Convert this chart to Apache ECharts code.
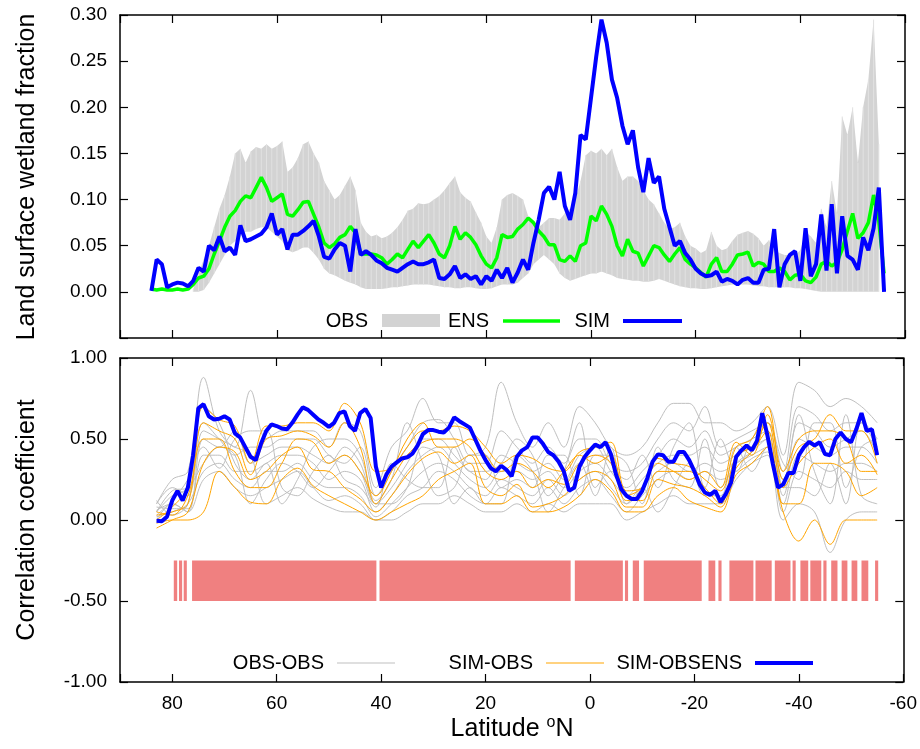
<!DOCTYPE html>
<html><head><meta charset="utf-8">
<script src="https://cdn.jsdelivr.net/npm/echarts@6/dist/echarts.min.js"></script>
<style>html,body{margin:0;padding:0;background:#fff}#c{width:920px;height:749px}</style>
</head><body><div id="c"></div>
<script>
// ---------- latitude grids ----------
const latTop = [];  for (let l = 84; l >= -56; l--) latTop.push(l);      // top panel, 1 deg
const latCorr = []; for (let l = 83; l >= -55; l--) latCorr.push(l);     // bottom thick line, 1 deg
const latThin = []; for (let l = 83; l >= -55; l -= 3) latThin.push(l);  // bottom thin lines, 3 deg

// ---------- top panel: wetland fraction ----------
const SIM_TOP = [
0.001,0.035,0.030,0.005,0.008,0.010,0.009,0.006,0.012,0.026,
0.022,0.050,0.045,0.060,0.044,0.048,0.040,0.072,0.055,0.057,
0.060,0.063,0.070,0.085,0.062,0.068,0.046,0.062,0.062,0.066,
0.071,0.077,0.060,0.038,0.036,0.046,0.053,0.050,0.022,0.068,
0.040,0.044,0.040,0.034,0.031,0.026,0.024,0.022,0.026,0.030,
0.033,0.030,0.030,0.032,0.035,0.015,0.014,0.019,0.028,0.015,
0.019,0.014,0.017,0.008,0.017,0.012,0.024,0.015,0.026,0.010,
0.021,0.035,0.024,0.053,0.078,0.107,0.114,0.100,0.130,0.093,
0.078,0.107,0.170,0.165,0.210,0.255,0.295,0.270,0.230,0.210,
0.180,0.160,0.175,0.135,0.108,0.145,0.118,0.125,0.090,0.070,
0.050,0.055,0.042,0.035,0.025,0.020,0.017,0.018,0.022,0.011,
0.014,0.012,0.008,0.013,0.015,0.010,0.010,0.024,0.025,0.068,
0.005,0.030,0.040,0.044,0.012,0.069,0.017,0.030,0.084,0.023,
0.095,0.020,0.082,0.039,0.035,0.024,0.059,0.045,0.069,0.113,
0.000];
const ENS_TOP = [
0.003,0.002,0.003,0.002,0.002,0.003,0.002,0.003,0.008,0.015,
0.017,0.025,0.041,0.055,0.070,0.082,0.088,0.098,0.104,0.102,
0.113,0.124,0.113,0.098,0.102,0.106,0.084,0.082,0.089,0.097,
0.098,0.084,0.070,0.053,0.048,0.052,0.059,0.062,0.071,0.064,
0.041,0.041,0.041,0.040,0.037,0.030,0.035,0.041,0.037,0.046,
0.055,0.048,0.055,0.062,0.053,0.041,0.037,0.050,0.071,0.057,
0.064,0.059,0.051,0.039,0.030,0.026,0.037,0.062,0.059,0.060,
0.068,0.073,0.080,0.075,0.066,0.060,0.051,0.051,0.035,0.033,
0.039,0.033,0.050,0.053,0.082,0.077,0.093,0.084,0.071,0.050,
0.039,0.057,0.044,0.042,0.028,0.039,0.050,0.048,0.040,0.033,
0.041,0.048,0.035,0.030,0.026,0.021,0.016,0.030,0.037,0.022,
0.022,0.030,0.040,0.041,0.043,0.028,0.032,0.030,0.022,0.022,
0.026,0.022,0.013,0.018,0.019,0.012,0.010,0.016,0.030,0.033,
0.028,0.032,0.046,0.066,0.085,0.058,0.064,0.075,0.105,0.076,
0.020];
const OBS_MAX = [
null,null,null,null,null,null,null,null,0.003,0.020,
0.035,0.050,0.070,0.090,0.105,0.125,0.150,0.155,0.140,0.152,
0.157,0.155,0.160,0.155,0.158,0.163,0.130,0.135,0.145,0.160,
0.163,0.150,0.140,0.120,0.110,0.100,0.105,0.115,0.125,0.110,
0.075,0.065,0.060,0.062,0.058,0.060,0.064,0.070,0.078,0.088,
0.090,0.096,0.095,0.096,0.100,0.104,0.110,0.118,0.125,0.108,
0.102,0.098,0.086,0.075,0.060,0.053,0.070,0.100,0.105,0.107,
0.104,0.100,0.082,0.075,0.070,0.075,0.080,0.080,0.078,0.085,
0.090,0.100,0.120,0.148,0.153,0.150,0.155,0.148,0.155,0.135,
0.120,0.125,0.125,0.120,0.110,0.100,0.095,0.085,0.075,0.068,
0.070,0.075,0.060,0.050,0.047,0.042,0.045,0.065,0.050,0.045,
0.047,0.055,0.062,0.064,0.066,0.063,0.058,0.050,0.056,0.045,
0.042,0.040,0.040,0.040,0.045,0.065,0.060,0.053,0.090,0.070,
0.120,0.085,0.190,0.170,0.200,0.140,0.200,0.230,0.295,0.160,
null];
const OBS_MIN = [
null,null,null,null,null,null,null,null,0.000,0.000,
0.002,0.010,0.020,0.030,0.040,0.050,0.055,0.060,0.065,0.065,
0.068,0.070,0.070,0.065,0.060,0.055,0.045,0.043,0.045,0.048,
0.048,0.042,0.035,0.025,0.020,0.018,0.015,0.012,0.010,0.008,
0.005,0.003,0.003,0.003,0.003,0.004,0.005,0.005,0.006,0.007,
0.008,0.008,0.008,0.008,0.007,0.006,0.005,0.005,0.004,0.004,
0.005,0.005,0.004,0.003,0.003,0.004,0.006,0.008,0.008,0.008,
0.010,0.015,0.020,0.030,0.035,0.040,0.035,0.030,0.020,0.015,
0.012,0.014,0.016,0.018,0.020,0.020,0.022,0.020,0.018,0.015,
0.014,0.013,0.012,0.012,0.011,0.011,0.012,0.014,0.012,0.010,
0.008,0.006,0.005,0.004,0.004,0.003,0.003,0.004,0.005,0.006,
0.007,0.008,0.008,0.008,0.008,0.007,0.006,0.006,0.005,0.005,
0.005,0.005,0.005,0.004,0.004,0.003,0.002,0.001,0.000,0.000,
0.000,0.000,0.000,0.000,0.000,0.000,0.000,0.000,0.000,0.000,
null];

// ---------- bottom panel: correlation ----------
const SIM_OBSENS = [
-0.005,-0.008,0.020,0.120,0.180,0.120,0.200,0.400,0.690,0.715,
0.640,0.620,0.625,0.640,0.620,0.535,0.510,0.450,0.390,0.370,
0.470,0.550,0.590,0.580,0.565,0.560,0.600,0.650,0.695,0.680,
0.650,0.620,0.600,0.575,0.600,0.660,0.670,0.580,0.550,0.660,
0.685,0.630,0.330,0.200,0.280,0.330,0.356,0.380,0.387,0.410,
0.460,0.530,0.555,0.555,0.545,0.540,0.570,0.634,0.610,0.590,
0.570,0.500,0.430,0.370,0.320,0.300,0.335,0.310,0.270,0.390,
0.430,0.450,0.510,0.510,0.470,0.420,0.400,0.360,0.300,0.180,
0.200,0.330,0.390,0.430,0.465,0.450,0.480,0.407,0.280,0.190,
0.150,0.130,0.130,0.180,0.260,0.360,0.405,0.400,0.360,0.360,
0.420,0.420,0.370,0.300,0.220,0.170,0.155,0.180,0.110,0.160,
0.230,0.390,0.430,0.460,0.430,0.490,0.660,0.520,0.350,0.200,
0.220,0.290,0.290,0.400,0.450,0.483,0.460,0.480,0.407,0.400,
0.500,0.540,0.500,0.480,0.560,0.660,0.550,0.560,0.400];

// SIM-OBS (orange), 3-degree samples 83 .. -55
const SIM_OBS = [
[0.00,0.08,0.20,0.70,0.62,0.58,0.35,0.58,0.58,0.60,0.60,0.55,0.72,0.60,0.30,0.32,0.45,0.55,0.55,0.58,0.55,0.45,0.35,0.40,0.38,0.32,0.30,0.42,0.45,0.48,0.18,0.20,0.38,0.35,0.33,0.25,0.18,0.45,0.50,0.70,0.25,0.45,0.50,0.65,0.55,0.55,0.35],
[0.03,0.05,0.10,0.60,0.55,0.50,0.28,0.50,0.52,0.55,0.52,0.45,0.60,0.45,0.10,0.25,0.40,0.48,0.50,0.50,0.45,0.30,0.25,0.30,0.20,0.25,0.22,0.35,0.40,0.35,0.12,0.12,0.30,0.30,0.30,0.20,0.10,0.40,0.45,0.60,0.20,0.35,0.45,0.50,0.35,0.40,0.28],
[-0.05,0.00,0.05,0.35,0.45,0.42,0.25,0.30,0.40,0.45,0.31,0.30,0.20,0.13,0.05,0.15,0.28,0.38,0.42,0.35,0.40,0.20,0.15,0.22,0.08,0.10,0.15,0.25,0.30,0.25,0.08,0.08,0.25,0.22,0.20,0.15,0.08,0.32,0.42,0.55,0.10,0.10,0.35,0.35,0.30,0.15,0.20],
[-0.02,0.00,0.00,0.05,0.30,0.20,0.11,0.10,0.25,0.32,0.21,0.15,0.10,0.05,0.00,0.05,0.10,0.15,0.25,0.30,0.35,0.10,0.10,0.15,0.05,0.05,0.08,0.15,0.25,0.18,0.05,0.05,0.15,0.20,0.12,0.08,0.05,0.28,0.35,0.45,0.05,-0.13,0.00,-0.15,0.00,0.00,0.00],
[0.05,0.03,0.15,0.50,0.50,0.30,0.20,0.20,0.35,0.50,0.48,0.35,0.40,0.30,0.15,0.30,0.50,0.60,0.45,0.45,0.50,0.40,0.30,0.35,0.30,0.20,0.30,0.40,0.35,0.40,0.15,0.20,0.35,0.30,0.25,0.30,0.20,0.48,0.40,0.65,0.30,0.50,0.55,0.55,0.50,0.30,0.30]
];
// OBS-OBS (grey), 3-degree samples 83 .. -55
const OBS_OBS = [
[0.10,0.25,0.30,0.88,0.55,0.45,0.80,0.50,0.55,0.55,0.55,0.45,0.60,0.55,0.20,0.45,0.55,0.75,0.60,0.60,0.40,0.45,0.85,0.60,0.45,0.60,0.45,0.70,0.60,0.45,0.40,0.45,0.60,0.72,0.72,0.60,0.60,0.55,0.60,0.70,0.40,0.85,0.80,0.70,0.75,0.70,0.60],
[0.05,0.15,0.20,0.60,0.50,0.40,0.45,0.45,0.50,0.50,0.50,0.40,0.35,0.45,0.15,0.30,0.45,0.60,0.62,0.50,0.35,0.35,0.55,0.45,0.35,0.45,0.35,0.50,0.50,0.35,0.30,0.35,0.50,0.60,0.55,0.70,0.45,0.50,0.55,0.60,0.30,0.70,0.65,0.55,0.60,0.60,0.50],
[0.00,0.10,0.05,0.50,0.45,0.55,0.35,0.40,0.45,0.45,0.40,0.35,0.45,0.35,0.10,0.20,0.35,0.50,0.50,0.40,0.30,0.25,0.40,0.35,0.30,0.35,0.25,0.40,0.45,0.30,0.20,0.30,0.40,0.50,0.45,0.55,0.40,0.45,0.50,0.55,0.20,0.60,0.55,0.45,0.50,0.55,0.40],
[0.08,0.07,0.07,0.40,0.40,0.30,0.30,0.35,0.40,0.40,0.35,0.25,0.30,0.25,0.05,0.15,0.30,0.40,0.45,0.35,0.25,0.20,0.30,0.30,0.25,0.30,0.20,0.30,0.35,0.25,0.15,0.25,0.35,0.40,0.40,0.45,0.35,0.40,0.45,0.50,0.15,0.50,0.45,0.40,0.45,0.45,0.35],
[0.02,0.05,0.10,0.30,0.35,0.25,0.20,0.30,0.30,0.35,0.25,0.20,0.20,0.15,0.02,0.10,0.20,0.30,0.35,0.30,0.20,0.15,0.25,0.20,0.15,0.25,0.15,0.25,0.30,0.20,0.10,0.20,0.30,0.35,0.30,0.35,0.30,0.35,0.40,0.45,0.10,0.40,0.35,0.30,0.35,0.35,0.30],
[0.06,0.10,0.05,0.25,0.30,0.20,0.15,0.20,0.25,0.30,0.20,0.12,0.15,0.10,0.00,0.05,0.15,0.20,0.30,0.25,0.15,0.10,0.20,0.15,0.10,0.20,0.10,0.20,0.25,0.15,0.05,0.15,0.25,0.30,0.25,0.30,0.25,0.30,0.38,0.42,0.05,0.30,0.25,0.20,0.30,0.25,0.25],
[0.10,0.20,0.15,0.55,0.50,0.45,0.40,0.10,0.15,0.20,0.13,0.08,0.05,0.05,0.00,0.00,0.05,0.10,0.10,0.15,0.10,0.05,0.05,0.10,0.05,0.10,0.05,0.10,0.10,0.10,0.00,0.05,0.10,0.15,0.10,0.10,0.10,0.25,0.35,0.40,0.00,0.10,0.05,-0.20,0.00,0.05,0.05],
[0.03,0.12,0.25,0.45,0.32,0.50,0.55,0.55,0.20,0.15,0.30,0.40,0.25,0.20,0.08,0.35,0.25,0.20,0.20,0.45,0.30,0.30,0.35,0.50,0.40,0.15,0.30,0.60,0.20,0.30,0.25,0.40,0.20,0.45,0.60,0.20,0.50,0.30,0.50,0.60,0.35,0.25,0.60,0.60,0.20,0.45,0.50],
[0.12,0.03,0.10,0.70,0.60,0.35,0.25,0.35,0.10,0.25,0.45,0.50,0.50,0.40,0.12,0.25,0.60,0.35,0.15,0.20,0.40,0.40,0.20,0.25,0.20,0.40,0.40,0.15,0.40,0.40,0.35,0.10,0.45,0.25,0.20,0.50,0.20,0.35,0.42,0.50,0.25,0.65,0.30,0.10,0.65,0.15,0.10],
[0.05,0.18,0.20,0.35,0.45,0.40,0.10,0.25,0.35,0.30,0.20,0.30,0.40,0.30,0.10,0.10,0.20,0.45,0.40,0.10,0.20,0.10,0.10,0.40,0.30,0.05,0.20,0.35,0.15,0.45,0.10,0.20,0.05,0.20,0.35,0.15,0.15,0.45,0.30,0.45,0.20,0.20,0.15,0.35,0.10,0.60,0.45]
];
// latitude bands [from, to] where SIM-OBSENS is significant
const SIG_BANDS = [[79.7,79.05],[78.7,78.1],[77.8,77.2],[76.2,40.9],[40.3,3.7],[2.9,-6.3],[-6.7,-7.3],[-8.2,-9.4],[-10.3,-21.4],[-22.7,-24.0],[-24.6,-25.2],[-26.7,-31.3],[-31.7,-34.8],[-35.4,-38.4],[-38.8,-39.4],[-40.3,-41.8],[-42.2,-44.3],[-44.7,-45.3],[-46.2,-47.4],[-48.2,-49.3],[-50.1,-51.2],[-52.0,-53.3],[-54.6,-55.2]];
const SIG_RANGE = [-0.25, -0.5];

const X_TICKS = [80,60,40,20,0,-20,-40,-60];

// ---------- chart ----------
const FONT = "'Liberation Sans', Arial, Helvetica, sans-serif";
const pairs = (lats, vals) => lats.map((l, i) => [l, vals[i]]);
const bandData = [];
latTop.forEach((l, i) => { if (OBS_MAX[i] != null) bandData.push([l, OBS_MIN[i], OBS_MAX[i]]); });

function xAx(gi, pos, labels) {
  return {
    type: 'value', gridIndex: gi, position: pos, min: -60, max: 90, interval: 20, inverse: true,
    axisLine: { show: true, onZero: false, lineStyle: { color: '#000', width: 1.5 } },
    axisTick: { show: true, inside: true, length: 8, lineStyle: { color: '#000', width: 1.2 } },
    axisLabel: { show: labels, color: '#000', fontSize: 19, fontFamily: FONT, margin: 12,
      formatter: v => (X_TICKS.indexOf(v) >= 0 ? String(v) : '') },
    splitLine: { show: false }
  };
}
function yAx(gi, pos, min, max, interval, labels, fmt) {
  return {
    type: 'value', gridIndex: gi, position: pos, min, max, interval,
    axisLine: { show: true, onZero: false, lineStyle: { color: '#000', width: 1.5 } },
    axisTick: { show: true, inside: true, length: 8, lineStyle: { color: '#000', width: 1.2 } },
    axisLabel: { show: labels, color: '#000', fontSize: 19, fontFamily: FONT, margin: 13, formatter: fmt },
    splitLine: { show: false }
  };
}
const series = [];
// OBS min-max envelope as one polygon through the axis scales
series.push({ type: 'custom', xAxisIndex: 0, yAxisIndex: 0, data: bandData,
  encode: { x: 0, y: [1, 2] }, silent: true, z: 1,
  renderItem: (params, api) => {
    if (params.dataIndex !== 0) return { type: 'group', children: [] };
    const up = bandData.map(d => api.coord([d[0], d[2]]));
    const lo = bandData.map(d => api.coord([d[0], d[1]])).reverse();
    const stripes = bandData.map(d => {
      const a = api.coord([d[0], d[2]]), b = api.coord([d[0], d[1]]);
      return { type: 'line', shape: { x1: a[0], y1: a[1], x2: b[0], y2: b[1] }, style: { stroke: '#e2e2e2', lineWidth: 1 } };
    });
    return { type: 'group', children: [
      { type: 'polygon', shape: { points: up.concat(lo) }, style: { fill: '#d3d3d3' } }
    ].concat(stripes) };
  } });
series.push({ type: 'line', xAxisIndex: 0, yAxisIndex: 0, data: pairs(latTop, ENS_TOP),
  symbol: 'none', lineStyle: { color: '#00ff00', width: 3.5 }, z: 3 });
series.push({ type: 'line', xAxisIndex: 0, yAxisIndex: 0, data: pairs(latTop, SIM_TOP),
  symbol: 'none', lineStyle: { color: '#0000ff', width: 4 }, z: 4 });

series.push({ type: 'custom', xAxisIndex: 2, yAxisIndex: 2,
  data: SIG_BANDS.map(b => [b[0], b[1], SIG_RANGE[0], SIG_RANGE[1]]),
  encode: { x: [0, 1], y: [2, 3] },
  renderItem: (params, api) => {
    const p1 = api.coord([api.value(0), api.value(2)]);
    const p2 = api.coord([api.value(1), api.value(3)]);
    return { type: 'rect', shape: { x: Math.min(p1[0], p2[0]), y: Math.min(p1[1], p2[1]),
      width: Math.abs(p2[0] - p1[0]), height: Math.abs(p2[1] - p1[1]) }, style: { fill: '#f08080' } };
  }, z: 1 });
OBS_OBS.forEach(arr => series.push({ type: 'line', xAxisIndex: 2, yAxisIndex: 2, data: pairs(latThin, arr),
  symbol: 'none', smooth: 0.35, lineStyle: { color: '#bfbfbf', width: 1 }, z: 2 }));
SIM_OBS.forEach(arr => series.push({ type: 'line', xAxisIndex: 2, yAxisIndex: 2, data: pairs(latThin, arr),
  symbol: 'none', smooth: 0.35, lineStyle: { color: '#ffa500', width: 1 }, z: 3 }));
series.push({ type: 'line', xAxisIndex: 2, yAxisIndex: 2, data: pairs(latCorr, SIM_OBSENS),
  symbol: 'none', lineStyle: { color: '#0000ff', width: 4 }, z: 4 });

const txt = (x, y, s, align, size) => ({ type: 'text', x, y, silent: true,
  style: { text: s, fill: '#000', font: size + 'px ' + FONT, textAlign: align, textVerticalAlign: 'middle' } });
const seg = (x1, x2, y, color, w) => ({ type: 'line', silent: true, shape: { x1, y1: y, x2, y2: y },
  style: { stroke: color, lineWidth: w } });

const graphic = [
  txt(368, 321, 'OBS', 'right', 20),
  { type: 'rect', silent: true, shape: { x: 382, y: 314, width: 58, height: 13 }, style: { fill: '#d3d3d3' } },
  txt(489, 321, 'ENS', 'right', 20), seg(503, 560, 321, '#00ff00', 3.5),
  txt(610, 321, 'SIM', 'right', 20), seg(623, 682, 321, '#0000ff', 4),
  txt(324, 663, 'OBS-OBS', 'right', 20), seg(337, 395, 663, '#bfbfbf', 1),
  txt(533, 663, 'SIM-OBS', 'right', 20), seg(546, 604, 663, '#ffa500', 1),
  txt(742, 663, 'SIM-OBSENS', 'right', 20), seg(755, 813, 663, '#0000ff', 4),
  { type: 'text', x: 27, y: 177, rotation: Math.PI / 2, silent: true,
    style: { text: 'Land surface wetland fraction', fill: '#000', font: '25px ' + FONT, textAlign: 'center', textVerticalAlign: 'middle' } },
  { type: 'text', x: 27, y: 520, rotation: Math.PI / 2, silent: true,
    style: { text: 'Correlation coefficient', fill: '#000', font: '25px ' + FONT, textAlign: 'center', textVerticalAlign: 'middle' } },
  { type: 'text', x: 512, y: 729, silent: true,
    style: { text: '{a|Latitude }{s|o}{a|N}', textAlign: 'center', textVerticalAlign: 'middle',
      rich: { a: { fontSize: 25, fontFamily: FONT, fill: '#000', color: '#000' },
              s: { fontSize: 16, fontFamily: FONT, fill: '#000', color: '#000', padding: [0, 0, 12, 0] } } } }
];

const option = {
  animation: false,
  backgroundColor: '#fff',
  grid: [ { left: 120, top: 15, width: 785, height: 323 }, { left: 120, top: 358, width: 785, height: 324 } ],
  xAxis: [ xAx(0, 'bottom', false), xAx(0, 'top', false), xAx(1, 'bottom', true), xAx(1, 'top', false) ],
  yAxis: [
    yAx(0, 'left', -0.05, 0.3, 0.05, true, v => (v < -0.01 ? '' : v.toFixed(2))),
    yAx(0, 'right', -0.05, 0.3, 0.05, false),
    yAx(1, 'left', -1, 1, 0.5, true, v => v.toFixed(2)),
    yAx(1, 'right', -1, 1, 0.5, false)
  ],
  series,
  graphic
};
const chart = echarts.init(document.getElementById('c'), null, { renderer: 'canvas' });
chart.setOption(option);
</script></body></html>
